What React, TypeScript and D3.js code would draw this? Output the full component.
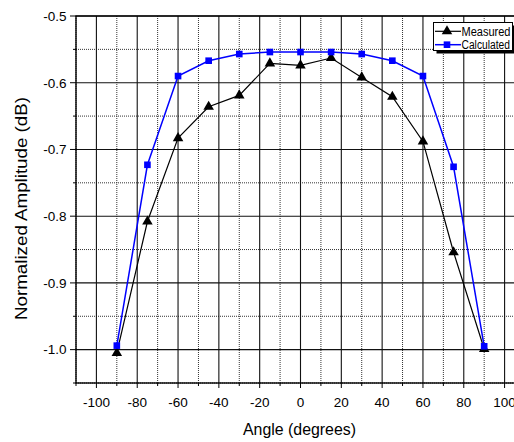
import React from 'react';
import * as d3 from 'd3';

const angles = [-90, -75, -60, -45, -30, -15, 0, 15, 30, 45, 60, 75, 90];
const measured = [-1.005, -0.808, -0.683, -0.636, -0.619, -0.571, -0.574, -0.563, -0.592, -0.621, -0.688, -0.854, -0.999];
const calculated = [-0.994, -0.723, -0.59, -0.567, -0.557, -0.554, -0.554, -0.554, -0.557, -0.567, -0.59, -0.726, -0.995];
const xTicks = [-100, -80, -60, -40, -20, 0, 20, 40, 60, 80, 100];
const xMinor = [-110, -90, -70, -50, -30, -10, 10, 30, 50, 70, 90, 110];
const yTicks = [-1.0, -0.9, -0.8, -0.7, -0.6, -0.5];
const yMinor = [-1.05, -0.95, -0.85, -0.75, -0.65, -0.55];
const seriesNames = ['Measured', 'Calculated'];

const W = 514;
const H = 442;
const font = "'Liberation Sans', Arial, sans-serif";

const App = () => {
    const x = d3.scaleLinear().domain([-110, 110]).range([76, 525]);
    const y = d3.scaleLinear().domain([-1.05, -0.5]).range([383, 16]);

    const pts = (vals: number[]) => angles.map((a, i) => [a, vals[i]] as [number, number]);
    const line = d3.line<[number, number]>().x(d => x(d[0])).y(d => y(d[1]));
    const tri = d3.symbol().type(d3.symbolTriangle).size(48)();
    const sq = d3.symbol().type(d3.symbolSquare).size(44)();

    const [x0, x1] = x.range();
    const [yb, yt] = y.range();

    return (
        <svg width={W} height={H} style={{ position: 'absolute', left: 0, top: 0 }} fontFamily={font}>
            {/* minor grid */}
            {xMinor.map(t => (
                <line key={'xm' + t} x1={x(t)} x2={x(t)} y1={yt} y2={yb} stroke="#333" strokeWidth={1} strokeDasharray="1,1" />
            ))}
            {yMinor.map(t => (
                <line key={'ym' + t} x1={x0} x2={x1} y1={y(t)} y2={y(t)} stroke="#333" strokeWidth={1} strokeDasharray="1,1" />
            ))}
            {/* major grid */}
            {xTicks.map(t => (
                <line key={'xg' + t} x1={x(t)} x2={x(t)} y1={yt} y2={yb} stroke="#111" strokeWidth={1.1} />
            ))}
            {yTicks.map(t => (
                <line key={'yg' + t} x1={x0} x2={x1} y1={y(t)} y2={y(t)} stroke="#111" strokeWidth={1.1} />
            ))}
            {/* frame */}
            <rect x={x0} y={yt} width={x1 - x0} height={yb - yt} fill="none" stroke="#000" strokeWidth={1.4} />

            {/* ticks */}
            {xTicks.map(t => (
                <g key={'xt' + t}>
                    <line x1={x(t)} x2={x(t)} y1={yb} y2={yb + 5} stroke="#000" />
                    <text x={x(t)} y={yb + 23.5} fontSize={13.5} textAnchor="middle" fill="#000">{t}</text>
                </g>
            ))}
            {xMinor.map(t => (
                <line key={'xmt' + t} x1={x(t)} x2={x(t)} y1={yb} y2={yb + 3} stroke="#000" />
            ))}
            {yTicks.map(t => (
                <g key={'yt' + t}>
                    <line x1={x0 - 6} x2={x0} y1={y(t)} y2={y(t)} stroke="#000" />
                    <text x={x0 - 9.5} y={y(t) + 4.8} fontSize={13.5} textAnchor="end" fill="#000">{t.toFixed(1)}</text>
                </g>
            ))}
            {yMinor.map(t => (
                <line key={'ymt' + t} x1={x0 - 3} x2={x0} y1={y(t)} y2={y(t)} stroke="#000" />
            ))}

            {/* axis titles */}
            <text x={299.5} y={435} fontSize={16} textAnchor="middle" textLength={113} lengthAdjust="spacingAndGlyphs" fill="#000">Angle (degrees)</text>
            <text transform={`translate(27,208.5) rotate(-90)`} fontSize={16.5} textAnchor="middle" textLength={223} lengthAdjust="spacingAndGlyphs" fill="#000">Normalized Amplitude (dB)</text>

            {/* series */}
            <path d={line(pts(measured)) || ''} fill="none" stroke="#000" strokeWidth={1.2} />
            {pts(measured).map((p, i) => (
                <path key={'m' + i} d={tri || ''} transform={`translate(${x(p[0])},${y(p[1])})`} fill="#000" />
            ))}
            <path d={line(pts(calculated)) || ''} fill="none" stroke="#0000ff" strokeWidth={1.5} />
            {pts(calculated).map((p, i) => (
                <path key={'c' + i} d={sq || ''} transform={`translate(${x(p[0])},${y(p[1])})`} fill="#0000ff" />
            ))}

            {/* legend */}
            <g>
                <rect x={436.5} y={25.5} width={80} height={28} fill="#000" />
                <rect x={433.5} y={22.5} width={79} height={28} fill="#fff" stroke="#000" strokeWidth={1} />
                {seriesNames.map((name, i) => {
                    const ly = 31.3 + i * 13.4;
                    return (
                        <g key={name}>
                            <line x1={435} x2={461} y1={ly} y2={ly} stroke={i === 0 ? '#000' : '#0000ff'} strokeWidth={i === 0 ? 1.2 : 1.5} />
                            <path d={(i === 0 ? tri : sq) || ''} transform={`translate(447,${ly})`} fill={i === 0 ? '#000' : '#0000ff'} />
                            <text x={461.5} y={ly + 4.3} fontSize={12.5} textLength={i === 0 ? 49 : 48.5} lengthAdjust="spacingAndGlyphs" fill="#000">{name}</text>
                        </g>
                    );
                })}
            </g>
        </svg>
    );
};

export default App;
